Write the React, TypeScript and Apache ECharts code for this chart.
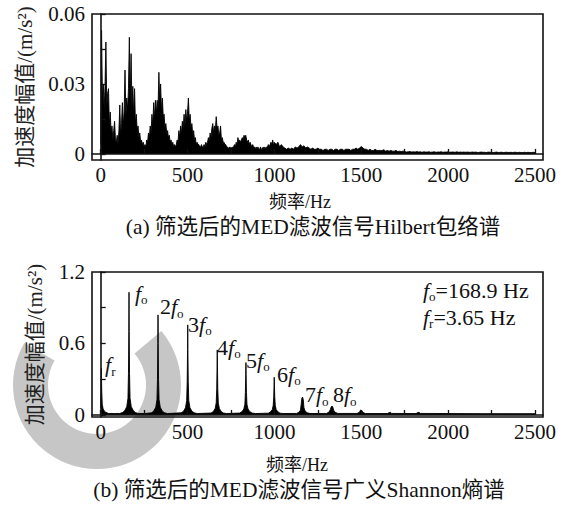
import React, { useEffect, useRef } from "react";
import * as echarts from "echarts";

// ---------- axes ----------
const xTicks = [0, 250, 500, 750, 1000, 1250, 1500, 1750, 2000, 2250, 2500];
const xLabels = [0, 500, 1000, 1500, 2000, 2500];
const topYTicks = [0, 0.015, 0.03, 0.045, 0.06];
const topYLabels = [0, 0.03, 0.06];
const botYTicks = [0, 0.3, 0.6, 0.9, 1.2];
const botYLabels = [0, 0.6, 1.2];

// ---------- (a) Hilbert envelope spectrum, values in 10^-3 m/s^2 ----------
const envLowStep = 5; // Hz, f = 0 .. 1000
const envLow = [
  // 0 - 100
  4, 53, 24, 30, 19, 29, 48, 20, 26, 28, 12, 18, 9, 12, 6, 10, 14, 6, 5, 8, 4,
  // 105 - 240
  10, 21, 8, 13, 22, 12, 18, 36, 16, 24, 19, 28, 50, 22, 43, 20, 29, 16, 28, 13, 17, 10, 12, 7, 9, 5, 6, 4,
  // 245 - 265
  5, 3, 4, 3, 6,
  // 270 - 405
  5, 9, 7, 12, 9, 17, 12, 22, 15, 23, 17, 23, 19, 35, 22, 30, 18, 24, 16, 17, 11, 13, 9, 10, 7, 8, 5, 6,
  // 410 - 430
  4, 5, 3, 4, 3,
  // 435 - 555
  4, 6, 5, 10, 7, 12, 9, 14, 11, 17, 12, 19, 14, 18, 24, 14, 17, 11, 13, 8, 10, 6, 7, 4, 5,
  // 560 - 610
  4, 4, 3, 3, 4, 3, 3, 4, 3, 5, 4,
  // 615 - 705
  5, 7, 5, 9, 7, 11, 13, 9, 12, 10, 16, 11, 12, 8, 9, 12, 6, 7, 5,
  // 710 - 1000
  5, 4, 4, 3, 3, 2, 3, 2,
  3, 2, 3, 3, 4, 3, 5, 4, 7, 5,
  6, 5, 6, 7, 6, 8, 7, 8, 6, 5,
  6, 4, 5, 4, 3, 4, 3, 3, 2, 3,
  2, 3, 2, 2, 3, 2, 2, 3, 2, 3,
  2, 3, 3, 4, 3, 4, 5, 4, 6, 4,
  5,
];
const envHighStart = 1010;
const envHighStep = 10; // Hz, f = 1010 .. 2500
const envHigh = [
  4, 5, 3, 4, 3, 2.5, 2, 2.5, 2, 2.5,
  2, 3, 2.5, 3, 4, 3, 3.5, 2.5, 3, 2.5,
  2, 2.5, 2, 2, 2.5, 2, 2, 1.5, 2, 2,
  1.5, 2, 2, 1.5, 2, 2, 1.5, 2, 2, 1.5,
  2, 2, 2, 1.5, 2, 2, 2.5, 2, 2.5, 3.2,
  2.5, 2, 2, 1.5, 2, 1.5, 1.5, 2, 1.5, 1.5,
  1.5, 1.5, 1.8, 1.2, 1.5, 1.2, 1.5, 1.2, 1.2, 1.5,
  1, 1.2, 1, 1.2, 1, 0.8, 0.9, 1, 0.8, 0.9,
  0.8, 1, 0.8, 0.9, 0.7, 0.9, 0.8, 0.8, 0.9, 0.7,
  0.8, 0.9, 0.7, 0.8, 0.8, 0.9, 0.7, 0.8, 0.8, 0.9,
  0.7, 0.8, 0.8, 0.7, 0.9, 0.7, 0.8, 0.7, 0.8, 0.7,
  0.8, 0.7, 0.7, 0.8, 0.7, 0.8, 0.6, 0.7, 0.8, 0.7,
  0.7, 0.6, 0.8, 0.7, 0.7, 0.6, 0.7, 0.8, 0.6, 0.7,
  0.7, 0.6, 0.7, 0.7, 0.6, 0.7, 0.6, 0.7, 0.7, 0.6,
  0.7, 0.6, 0.6, 0.7, 0.6, 0.7, 0.6, 0.6, 0.7, 0.6,
];

// ---------- (b) generalized Shannon entropy spectrum ----------
const entFreq = [
  0, 2, 4, 6, 9, 14, 25, 45, 80, 110,
  125, 138, 150, 157, 160, 162, 163, 164, 166, 169, 176, 188, 200, 215, 250,
  292, 305, 317, 324, 327, 329, 330, 331, 333, 336, 343, 355, 368, 385,
  463, 476, 488, 495, 498, 500, 501, 502, 504, 507, 514, 526, 539, 555,
  635, 648, 659, 665, 668, 670, 671, 672, 674, 677, 683, 694, 707, 725,
  800, 813, 824, 830, 833, 835, 836, 837, 839, 842, 848, 859, 872, 890,
  965, 977, 988, 993, 996, 998, 999, 1000, 1002, 1005, 1010, 1021, 1033, 1050,
  1128, 1140, 1150, 1155, 1158, 1162, 1166, 1170, 1178, 1190, 1205,
  1300, 1315, 1322, 1326, 1331, 1336, 1341, 1350, 1365,
  1475, 1490, 1495, 1499, 1503, 1510, 1525,
  1650, 1662, 1667, 1675,
  1815, 1826, 1832, 1840,
  2200, 2500,
];
const entAmp = [
  0.06, 0.2, 0.39, 0.2, 0.09, 0.05, 0.025, 0.013, 0.012, 0.013,
  0.02, 0.035, 0.07, 0.14, 0.35, 0.7, 1.03, 0.7, 0.35, 0.14, 0.07, 0.035, 0.02, 0.013, 0.012,
  0.018, 0.032, 0.065, 0.13, 0.3, 0.6, 0.84, 0.6, 0.3, 0.13, 0.065, 0.032, 0.018, 0.012,
  0.018, 0.03, 0.06, 0.12, 0.28, 0.55, 0.756, 0.55, 0.28, 0.12, 0.06, 0.03, 0.018, 0.012,
  0.016, 0.028, 0.055, 0.1, 0.22, 0.42, 0.546, 0.42, 0.22, 0.1, 0.055, 0.028, 0.016, 0.012,
  0.016, 0.027, 0.05, 0.09, 0.19, 0.34, 0.44, 0.34, 0.19, 0.09, 0.05, 0.027, 0.016, 0.012,
  0.015, 0.025, 0.045, 0.08, 0.15, 0.26, 0.317, 0.26, 0.15, 0.08, 0.045, 0.025, 0.015, 0.012,
  0.013, 0.022, 0.04, 0.1, 0.14, 0.15, 0.13, 0.06, 0.03, 0.018, 0.012,
  0.013, 0.025, 0.045, 0.065, 0.075, 0.066, 0.04, 0.022, 0.013,
  0.013, 0.022, 0.04, 0.042, 0.035, 0.02, 0.012,
  0.012, 0.02, 0.022, 0.013,
  0.012, 0.02, 0.022, 0.013,
  0.011, 0.011,
];

// harmonic annotations (anchor = left/middle of label, in data units)
const harmFreq = [25, 197, 341, 503, 670, 837, 1015, 1176, 1337];
const harmAmp = [0.42, 1.02, 0.91, 0.76, 0.57, 0.46, 0.34, 0.17, 0.17];
const harmPrefix = ["", "", "2", "3", "4", "5", "6", "7", "8"];
const harmSub = ["r", "o", "o", "o", "o", "o", "o", "o", "o"];

// legend lines (top right of panel b)
const legendSub = ["o", "r"];
const legendRest = ["=168.9 Hz", "=3.65 Hz"];

const SERIF = "'Liberation Serif', 'Times New Roman', 'Noto Sans CJK SC', serif";
const INK = "#111111";

function richFor(size: number) {
  return {
    n: { fontFamily: SERIF, fontSize: size, lineHeight: 26, fill: INK, color: INK, textBorderWidth: 0 },
    f: { fontFamily: SERIF, fontStyle: "italic", fontSize: size, lineHeight: 26, fill: INK, color: INK, textBorderWidth: 0 },
    s: { fontFamily: SERIF, fontSize: 13, lineHeight: 12, verticalAlign: "bottom", fill: INK, color: INK, textBorderWidth: 0 },
    t: { fontFamily: SERIF, fontSize: size, lineHeight: 26, fill: INK, color: INK, textBorderWidth: 0 },
  };
}

// decorative grey watermark ring (background of the scanned figure)
function watermarkPoints(): number[][] {
  const cx = 97, cy = 385, rOut = 84, rIn = 49;
  const a0 = -40, a1 = 210;
  const pts: number[][] = [];
  for (let a = a0; a <= a1; a += 5) {
    const t = (a * Math.PI) / 180;
    pts.push([cx + rOut * Math.cos(t), cy + rOut * Math.sin(t)]);
  }
  for (let a = a1; a >= a0; a -= 5) {
    const t = (a * Math.PI) / 180;
    pts.push([cx + rIn * Math.cos(t), cy + rIn * Math.sin(t)]);
  }
  return pts;
}

function xAxisDef(gridIndex: number) {
  return {
    type: "value",
    gridIndex,
    z: 6,
    min: -50,
    max: 2546,
    axisLine: { show: true, lineStyle: { color: INK, width: 1.6 } },
    axisTick: {
      show: true,
      inside: true,
      length: 5,
      customValues: xTicks,
      lineStyle: { color: INK, width: 1.3 },
    },
    axisLabel: {
      show: true,
      customValues: xLabels,
      formatter: (v: number) => String(v),
      fontFamily: SERIF,
      fontSize: 21,
      color: INK,
      margin: 4,
    },
    splitLine: { show: false },
  };
}

function yAxisDef(gridIndex: number, min: number, max: number, ticks: number[], labels: number[], nameGap: number) {
  return {
    type: "value",
    gridIndex,
    z: 6,
    min,
    max,
    name: "加速度幅值/(m/s²)",
    nameLocation: "middle",
    nameGap,
    nameTextStyle: { fontFamily: SERIF, fontSize: 21, color: "#222" },
    axisLine: { show: true, lineStyle: { color: INK, width: 1.6 } },
    axisTick: {
      show: true,
      inside: true,
      length: 5,
      customValues: ticks,
      lineStyle: { color: INK, width: 1.3 },
    },
    axisLabel: {
      show: true,
      customValues: labels,
      formatter: (v: number) => String(v),
      fontFamily: SERIF,
      fontSize: 21,
      color: INK,
      margin: 7,
    },
    splitLine: { show: false },
  };
}

export default function App() {
  const ref = useRef<HTMLDivElement>(null);

  useEffect(() => {
    if (!ref.current) return;
    const chart = echarts.init(ref.current, null, { renderer: "svg" });

    const envData: number[][] = [];
    envLow.forEach((v, i) => envData.push([i * envLowStep, v / 1000]));
    envHigh.forEach((v, i) => envData.push([envHighStart + i * envHighStep, v / 1000]));

    const entData = entFreq.map((f, i) => [f, entAmp[i]]);

    const legendTexts = legendRest.map((rest, i) => ({
      type: "text",
      x: 423,
      y: 290 + i * 27,
      z: 10,
      style: {
        text: `{f|f}{s|${legendSub[i]}}{t|${rest}}`,
        verticalAlign: "middle",
        rich: richFor(22),
      },
    }));

    const baseOption = {
      animation: false,
      backgroundColor: "#ffffff",
      grid: [
        { left: 92, top: 14, width: 451, height: 146, show: true, z: 0, borderColor: INK, borderWidth: 1.6, backgroundColor: "rgba(0,0,0,0)" },
        { left: 92, top: 272, width: 451, height: 145, show: true, z: 0, borderColor: INK, borderWidth: 1.6, backgroundColor: "rgba(0,0,0,0)" },
      ],
      xAxis: [xAxisDef(0), xAxisDef(1)],
      yAxis: [
        yAxisDef(0, -0.0026, 0.06, topYTicks, topYLabels, 57),
        yAxisDef(1, -0.017, 1.2, botYTicks, botYLabels, 47),
      ],
      series: [
        {
          type: "line",
          xAxisIndex: 0,
          yAxisIndex: 0,
          data: envData,
          showSymbol: false,
          symbol: "none",
          lineStyle: { color: "#000", width: 0.9 },
          areaStyle: { color: "#000", opacity: 1 },
          z: 3,
        },
        {
          type: "line",
          xAxisIndex: 1,
          yAxisIndex: 1,
          data: entData,
          showSymbol: false,
          symbol: "none",
          lineStyle: { color: "#000", width: 0.9 },
          areaStyle: { color: "#000", opacity: 1 },
          z: 3,
        },
      ],
    };
    chart.setOption(baseOption as any);

    // harmonic annotations placed through the chart's own scales
    const harmTexts = harmFreq.map((f, i) => {
      const p = chart.convertToPixel({ gridIndex: 1 } as any, [f, harmAmp[i]]) as number[];
      const pre = harmPrefix[i] ? `{n|${harmPrefix[i]}}` : "";
      return {
        type: "text",
        x: p[0],
        y: p[1],
        z: 10,
        style: {
          text: `${pre}{f|f}{s|${harmSub[i]}}`,
          verticalAlign: "middle",
          rich: richFor(22),
        },
      };
    });

    chart.setOption({
      graphic: [
        {
          type: "polygon",
          z: -1,
          silent: true,
          shape: { points: watermarkPoints() },
          style: { fill: "#c6c6c6" },
        },
        { type: "text", x: 300, y: 202, style: { text: "频率/Hz", font: `18px ${SERIF}`, fill: INK, align: "center", verticalAlign: "middle" } },
        { type: "text", x: 313, y: 227, style: { text: "(a) 筛选后的MED滤波信号Hilbert包络谱", font: `21.5px ${SERIF}`, fill: INK, align: "center", verticalAlign: "middle" } },
        { type: "text", x: 297, y: 465, style: { text: "频率/Hz", font: `18px ${SERIF}`, fill: INK, align: "center", verticalAlign: "middle" } },
        { type: "text", x: 299, y: 490, style: { text: "(b) 筛选后的MED滤波信号广义Shannon熵谱", font: `21.5px ${SERIF}`, fill: INK, align: "center", verticalAlign: "middle" } },
        ...legendTexts,
        ...harmTexts,
      ],
    } as any);

    return () => chart.dispose();
  }, []);

  return (
    <div
      ref={ref}
      style={{ position: "fixed", left: 0, top: 0, width: 570, height: 510, background: "#fff" }}
    />
  );
}
